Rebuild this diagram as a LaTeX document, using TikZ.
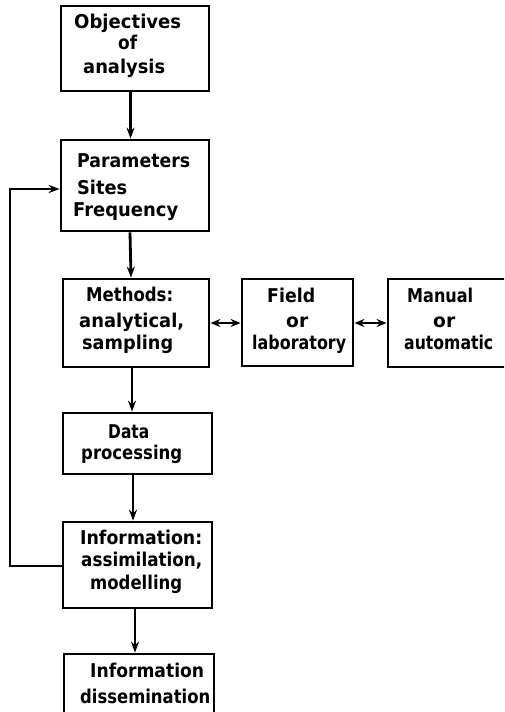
\documentclass[tikz,border=0pt]{standalone}
\usepackage{fontspec}
\usepackage{graphicx}
\setmainfont{DejaVu Sans}
\usetikzlibrary{arrows.meta}
\newcommand{\fitw}[2]{\resizebox{#1pt}{\height}{#2}}
\begin{document}
\begin{tikzpicture}[x=1pt,y=-1pt,
  box/.style={draw, line width=2.8pt, rectangle, inner sep=0pt},
  lbl/.style={anchor=base west, inner sep=0pt, font=\fontsize{19pt}{22pt}\selectfont\bfseries},
  arr/.style={line width=2.8pt, -{Stealth[length=11pt,width=8pt]}},
  darr/.style={line width=2.8pt, {Stealth[length=10pt,width=8pt]}-{Stealth[length=10pt,width=8pt]}}]
\useasboundingbox (0,0) rectangle (504,712);
\clip (0,0) rectangle (504,712);
% boxes
\node[box, minimum width=148pt, minimum height=85pt] (obj) at (135,48.5) {};
\node[box, minimum width=148pt, minimum height=91pt] (par) at (135,185.5) {};
\node[box, minimum width=146pt, minimum height=88pt] (meth) at (136,323) {};
\node[box, minimum width=111pt, minimum height=87pt] (field) at (297.5,322.5) {};
\node[box, minimum width=132pt, minimum height=88pt] (man) at (454,323) {};
\node[box, minimum width=149pt, minimum height=61pt] (data) at (137.5,443.5) {};
\node[box, minimum width=149pt, minimum height=86pt] (info) at (137.5,565) {};
\node[box, minimum width=150pt, minimum height=86pt] (diss) at (139,697) {};
% labels
\node[lbl] (t1) at (74,28) {\fitw{107}{Objectives}};
\node[lbl] (t2) at (118,49) {\fitw{19}{of}};
\node[lbl] (t3) at (83,73) {\fitw{82}{analysis}};
\node[lbl] (t4) at (77,167) {\fitw{113}{Parameters}};
\node[lbl] (t5) at (77,194) {\fitw{50}{Sites}};
\node[lbl] (t6) at (73,216) {\fitw{105}{Frequency}};
\node[lbl] (t7) at (86,301) {\fitw{87}{Methods:}};
\node[lbl] (t8) at (79,327) {\fitw{105}{analytical,}};
\node[lbl] (t9) at (82,349) {\fitw{91}{sampling}};
\node[lbl] (t10) at (267,302) {\fitw{48}{Field}};
\node[lbl] (t11) at (286,327) {\fitw{22}{or}};
\node[lbl] (t12) at (252,349) {\fitw{94}{laboratory}};
\node[lbl] (t13) at (407,302) {\fitw{66}{Manual}};
\node[lbl] (t14) at (433,327) {\fitw{22}{or}};
\node[lbl] (t15) at (404,349) {\fitw{89}{automatic}};
\node[lbl] (t16) at (108,438) {\fitw{41}{Data}};
\node[lbl] (t17) at (81,459) {\fitw{101}{processing}};
\node[lbl] (t18) at (80,544) {\fitw{122}{Information:}};
\node[lbl] (t19) at (81,566) {\fitw{121}{assimilation,}};
\node[lbl] (t20) at (90,589) {\fitw{92}{modelling}};
\node[lbl] (t21) at (90,677) {\fitw{114}{Information}};
\node[lbl] (t22) at (80,703) {\fitw{130}{dissemination}};
% connectors
\draw[arr] ([xshift=-4.5pt]obj.south) -- ([xshift=-4.5pt]par.north);
\draw[arr] ([xshift=-5pt]par.south) -- ([xshift=-5pt]meth.north);
\draw[arr] ([xshift=-4pt]meth.south) -- ([xshift=-5.5pt]data.north);
\draw[arr] ([xshift=-4.5pt]data.south) -- ([xshift=-4.5pt]info.north);
\draw[arr] ([xshift=-2.5pt]info.south) -- ([xshift=-4pt]diss.north);
\draw[darr] (meth.east) -- (field.west |- meth.east);
\draw[darr] (field.east |- meth.east) -- (man.west |- meth.east);
\coordinate (fb) at (10,566);
\draw[arr] (info.west |- fb) -- (fb) -- (10,189) -- (par.west |- 0,189);
\end{tikzpicture}
\end{document}
